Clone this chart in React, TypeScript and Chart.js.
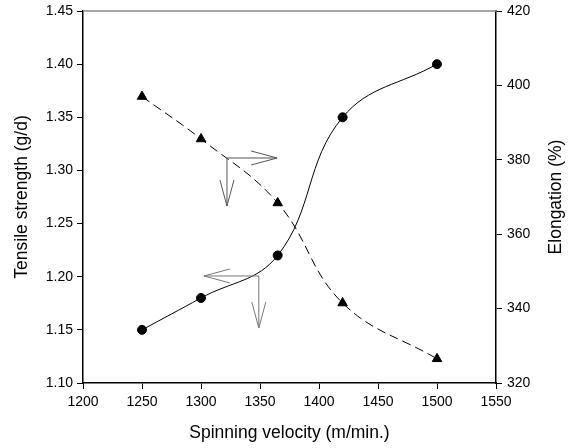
import React, { useEffect, useRef } from "react";
import { Chart, registerables } from "chart.js";

Chart.register(...registerables);

const velocity = [1250, 1300, 1365, 1420, 1500];
const tensileStrength = [1.15, 1.18, 1.22, 1.35, 1.40];
const elongation = [397, 385.6, 368.4, 341.5, 326.5];

const xTicks = [1200, 1250, 1300, 1350, 1400, 1450, 1500, 1550];
const leftTicks = [1.1, 1.15, 1.2, 1.25, 1.3, 1.35, 1.4, 1.45];
const rightTicks = [320, 340, 360, 380, 400, 420];

const xTitle = "Spinning velocity (m/min.)";
const leftTitle = "Tensile strength (g/d)";
const rightTitle = "Elongation (%)";

// annotation arrows: origin, horizontal end, vertical end (in x / left-axis coords)
const arrowOrigins = [
  { x: 1322, y: 1.3117, hx: 1364.5, vy: 1.2665, color: "#555555" },
  { x: 1349, y: 1.2007, hx: 1302.5, vy: 1.1517, color: "#777777" },
];

const FONT = "'Liberation Sans', Arial, sans-serif";
const TITLE_SIZE = 17.5;

function drawArrow(ctx: CanvasRenderingContext2D, x0: number, y0: number, x1: number, y1: number) {
  const len = 26;
  const half = 7;
  const dx = x1 - x0;
  const dy = y1 - y0;
  const d = Math.hypot(dx, dy) || 1;
  const ux = dx / d;
  const uy = dy / d;
  const bx = x1 - ux * len;
  const by = y1 - uy * len;
  ctx.beginPath();
  ctx.moveTo(x0, y0);
  ctx.lineTo(x1, y1);
  ctx.moveTo(bx - uy * half, by + ux * half);
  ctx.lineTo(x1, y1);
  ctx.lineTo(bx + uy * half, by - ux * half);
  ctx.stroke();
}

const annotationPlugin = {
  id: "annot",
  afterDatasetsDraw(chart: any) {
    const { ctx, chartArea, scales } = chart;
    const xs = scales.x;
    const ys = scales.y;
    ctx.save();
    // top frame line
    ctx.strokeStyle = "#888888";
    ctx.lineWidth = 1.5;
    ctx.beginPath();
    ctx.moveTo(chartArea.left, chartArea.top);
    ctx.lineTo(chartArea.right, chartArea.top);
    ctx.stroke();
    ctx.lineWidth = 1;
    for (const a of arrowOrigins) {
      ctx.strokeStyle = a.color;
      const px = xs.getPixelForValue(a.x);
      const py = ys.getPixelForValue(a.y);
      drawArrow(ctx, px, py, xs.getPixelForValue(a.hx), py);
      drawArrow(ctx, px, py, px, ys.getPixelForValue(a.vy));
    }
    // axis titles
    const cy = (chartArea.top + chartArea.bottom) / 2;
    const cx = (chartArea.left + chartArea.right) / 2;
    ctx.fillStyle = "#000";
    ctx.font = `${TITLE_SIZE}px ${FONT}`;
    ctx.textAlign = "center";
    ctx.textBaseline = "middle";
    ctx.fillText(xTitle, cx, chartArea.bottom + 50);
    ctx.save();
    ctx.translate(22, cy);
    ctx.rotate(-Math.PI / 2);
    ctx.fillText(leftTitle, 0, 0);
    ctx.restore();
    ctx.save();
    ctx.translate(chartArea.right + 60, cy);
    ctx.rotate(-Math.PI / 2);
    ctx.fillText(rightTitle, 0, 0);
    ctx.restore();
    ctx.restore();
  },
};

export default function App() {
  const ref = useRef<HTMLCanvasElement>(null);
  useEffect(() => {
    document.body.style.margin = "0";
    const chart = new Chart(ref.current!, {
      type: "line",
      data: {
        datasets: [
          {
            label: "Tensile strength",
            data: velocity.map((v, i) => ({ x: v, y: tensileStrength[i] })),
            yAxisID: "y",
            borderColor: "#000",
            backgroundColor: "#000",
            borderWidth: 1,
            pointStyle: "circle",
            pointRadius: 4.5,
            tension: 0.4,
          },
          {
            label: "Elongation",
            data: velocity.map((v, i) => ({ x: v, y: elongation[i] })),
            yAxisID: "y1",
            borderColor: "#000",
            backgroundColor: "#000",
            borderWidth: 1,
            borderDash: [9, 5],
            pointStyle: "triangle",
            pointRadius: 5.5,
            tension: 0.4,
          },
        ],
      },
      options: {
        animation: false,
        responsive: false,
        layout: { padding: { top: 11, right: 0, left: 0, bottom: 0 } },
        plugins: { legend: { display: false }, tooltip: { enabled: false } },
        scales: {
          x: {
            type: "linear",
            min: 1200,
            max: 1550,
            afterBuildTicks: (s: any) => { s.ticks = xTicks.map((v) => ({ value: v })); },
            afterFit: (s: any) => { s.height = 65; s.paddingLeft = 0; s.paddingRight = 0; },
            grid: { display: true, drawOnChartArea: false, drawTicks: true, tickLength: 6, color: "#000" },
            border: { color: "#000", width: 1.5 },
            ticks: { color: "#000", font: { family: FONT, size: 14 }, padding: 5, maxRotation: 0, callback: (v: any) => String(v) },
            title: { display: false },
          },
          y: {
            type: "linear",
            position: "left",
            min: 1.1,
            max: 1.45,
            afterBuildTicks: (s: any) => { s.ticks = leftTicks.map((v) => ({ value: v })); },
            afterFit: (s: any) => { s.width = 83; s.paddingTop = 0; s.paddingBottom = 0; },
            grid: { display: true, drawOnChartArea: false, drawTicks: true, tickLength: 6, color: "#000" },
            border: { color: "#000", width: 1.5 },
            ticks: { color: "#000", font: { family: FONT, size: 14 }, padding: 4, callback: (v: any) => Number(v).toFixed(2) },
            title: { display: false },
          },
          y1: {
            type: "linear",
            position: "right",
            min: 320,
            max: 420,
            afterBuildTicks: (s: any) => { s.ticks = rightTicks.map((v) => ({ value: v })); },
            afterFit: (s: any) => { s.width = 77; s.paddingTop = 0; s.paddingBottom = 0; },
            grid: { display: true, drawOnChartArea: false, drawTicks: true, tickLength: 6, color: "#000" },
            border: { color: "#000", width: 1.5 },
            ticks: { color: "#000", font: { family: FONT, size: 14 }, padding: 5 },
            title: { display: false },
          },
        },
      },
      plugins: [annotationPlugin],
    } as any);
    return () => chart.destroy();
  }, []);
  return (
    <div style={{ width: 573, height: 448 }}>
      <canvas ref={ref} width={573} height={448} style={{ display: "block" }} />
    </div>
  );
}
